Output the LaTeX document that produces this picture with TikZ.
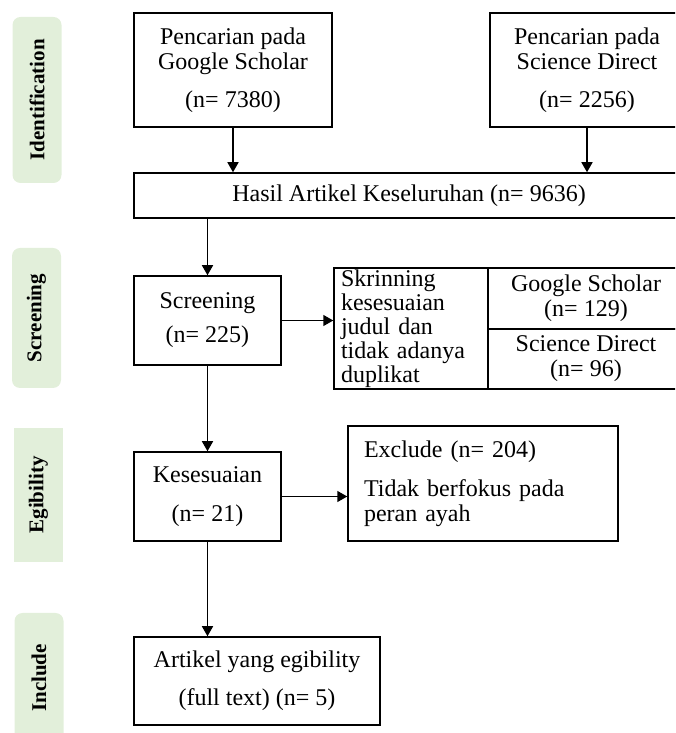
\documentclass[tikz,border=0pt]{standalone}
\usepackage{fontspec}
\setmainfont{Liberation Serif}
\usetikzlibrary{arrows.meta, positioning}
\definecolor{PhaseFill}{HTML}{E2EFDA}
\tikzset{
    phase label/.style={
        rotate=90, fill=PhaseFill, rounded corners=4pt,
        minimum height=24.5pt, inner sep=0pt,
        font=\fontsize{10.5}{12}\selectfont\bfseries
    },
    flow box/.style={
        draw, line width=0.75pt, inner sep=0pt, align=center,
        font=\fontsize{12}{12.5}\selectfont
    },
    flow arrow/.style={
        line width=0.75pt, -{Triangle[length=5pt,width=5.5pt]}
    }
}

\begin{document}
\begin{tikzpicture}

% Batas gambar (sisi kanan terpotong seperti aslinya).
\clip (0,0) rectangle (337.5pt,366.5pt);

% Label tahap di kiri.
\node[phase label, minimum width=83pt] (identification) at (18.5pt,316.5pt) {Identification};
\node[phase label, minimum width=70pt] (screeninglabel) at (18.25pt,207.5pt) {Screening};
\node[phase label, sharp corners, minimum width=67pt] (egibility) at (19.25pt,119pt) {Egibility};
\node[phase label, minimum width=65pt] (include) at (19.5pt,27.5pt) {Include};

% Kotak identifikasi.
\node[flow box, minimum width=99pt, minimum height=57pt] (gs) at (116.5pt,331.5pt)
    {Pencarian pada\\Google Scholar\\[6.5pt](n= 7380)};
\node[flow box, minimum width=97pt, minimum height=57pt] (sd) at (293.5pt,331.5pt)
    {Pencarian pada\\Science Direct\\[6.5pt](n= 2256)};
\node[flow box, minimum width=275pt, minimum height=22.5pt] (hasil) at (204.5pt,268.75pt)
    {Hasil Artikel Keseluruhan (n= 9636)};

% Screening dan tabel skrinning.
\node[flow box, minimum width=73.5pt, minimum height=44.5pt] (screening) at (103.75pt,206.25pt)
    {Screening\\[4.5pt](n= 225)};
\node[flow box, align=left, text width=70pt, minimum width=77pt, minimum height=60.5pt,
    font=\fontsize{12}{12}\selectfont] (skrin) at (205.5pt,202.25pt)
    {Skrinning\\kesesuaian\\judul dan\\tidak adanya\\duplikat};
\node[flow box, minimum width=98pt, minimum height=30.5pt] (skrings) at (293pt,217.25pt)
    {Google Scholar\\(n= 129)};
\node[flow box, minimum width=98pt, minimum height=30pt] (skrinsd) at (293pt,187pt)
    {Science Direct\\(n= 96)};

% Egibility.
\node[flow box, minimum width=73.5pt, minimum height=44.5pt] (kesesuaian) at (103.75pt,118.25pt)
    {Kesesuaian\\[7pt](n= 21)};
\node[flow box, align=left, text width=119pt, minimum width=135pt, minimum height=57.5pt] (exclude) at (241.5pt,124.75pt)
    {Exclude (n= 204)\\[7pt]Tidak berfokus pada\\peran ayah};

% Include.
\node[flow box, minimum width=123pt, minimum height=44pt] (artikel) at (128.5pt,26pt)
    {Artikel yang egibility\\[6.5pt](full text) (n= 5)};

% Panah antar kotak.
\draw[flow arrow] (gs.south) -- (gs.south |- hasil.north);
\draw[flow arrow] (sd.south) -- (sd.south |- hasil.north);
\draw[flow arrow] (screening.north |- hasil.south) -- (screening.north);
\draw[flow arrow] (screening.east) -- (screening.east -| skrin.west);
\draw[flow arrow] (screening.south) -- (kesesuaian.north);
\draw[flow arrow] (kesesuaian.east) -- (kesesuaian.east -| exclude.west);
\draw[flow arrow] (kesesuaian.south) -- (kesesuaian.south |- artikel.north);

\end{tikzpicture}
\end{document}
